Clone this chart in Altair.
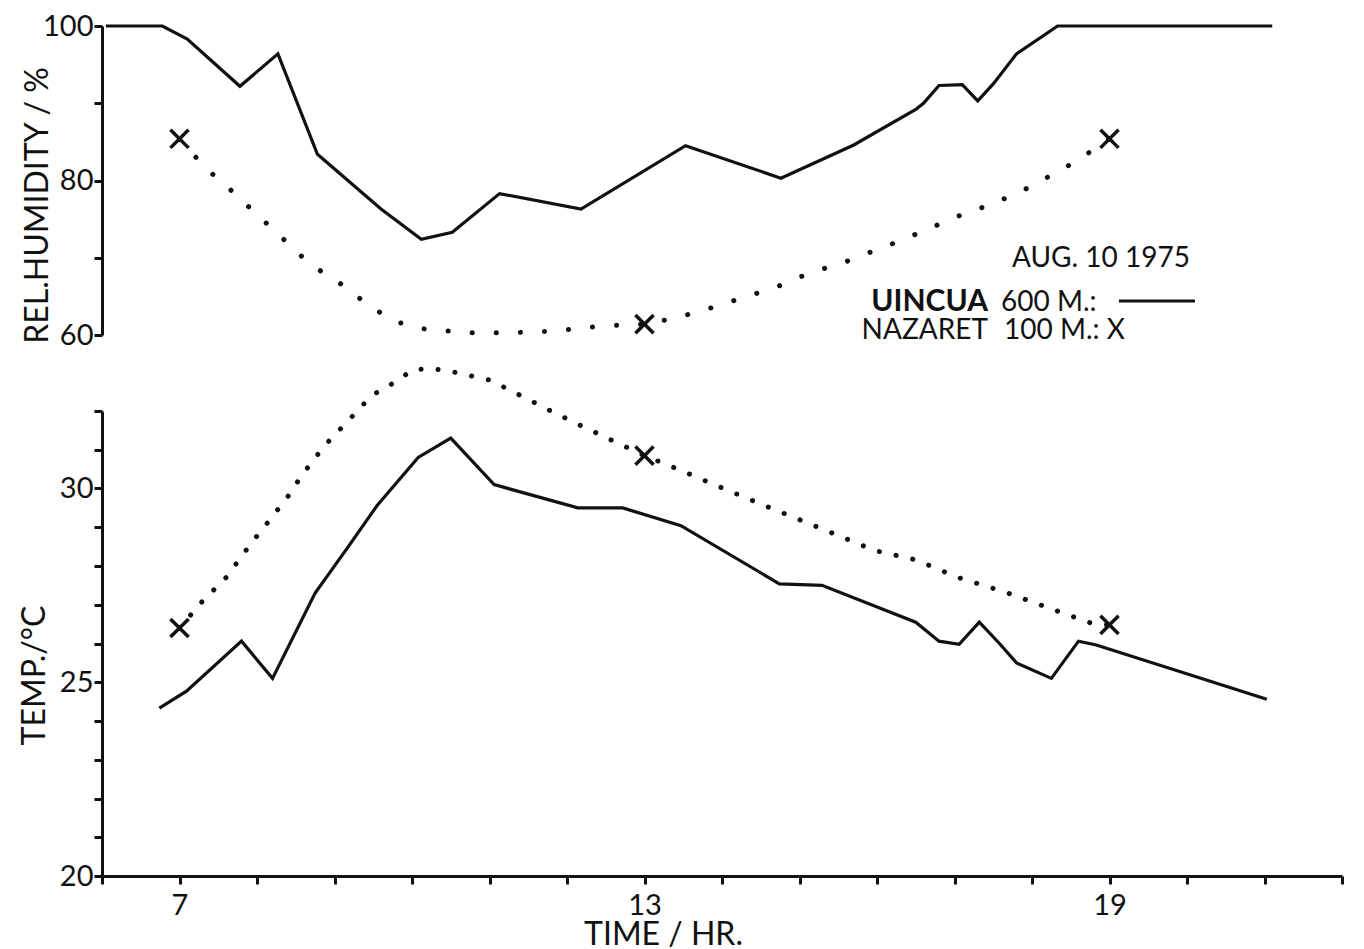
import altair as alt
import pandas as pd

# ---------------- data ----------------
hour_ticks = list(range(6, 23))
hour_labels = [7, 13, 19]
rh_ticks = [60, 70, 80, 90, 100]
rh_labels = [60, 80, 100]
temp_ticks = list(range(20, 33))
temp_labels = [20, 25, 30]

# UINCUA 600 m : relative humidity (solid line)
rh_u_time = [6.05, 6.78, 7.1, 7.78, 8.27, 8.78, 9.6, 10.12, 10.52, 11.13, 12.18,
             13.53, 14.76, 15.7, 16.5, 16.6, 16.8, 17.1, 17.3, 17.5, 17.8, 18.33, 21.1]
rh_u_val = [100, 100, 98.3, 92.2, 96.4, 83.4, 76.3, 72.4, 73.3, 78.3, 76.3,
            84.5, 80.3, 84.6, 89.2, 90.0, 92.3, 92.4, 90.3, 92.5, 96.4, 100, 100]

# NAZARET 100 m : relative humidity, smoothed dotted curve
rh_n_time = [7.0, 7.35, 7.68, 8.0, 8.3, 8.68, 9.07, 9.42, 9.76, 10.15, 10.7, 11.3,
             11.8, 12.5, 13.0, 13.35, 13.7, 14.2, 14.7, 15.1, 15.6, 16.3, 16.7,
             17.1, 17.5, 17.9, 18.4, 18.6, 19.0]
rh_n_val = [85.3, 81.5, 78.6, 75.6, 72.8, 69.2, 66.7, 64.0, 61.8, 60.8, 60.3, 60.3,
            60.5, 61.2, 61.4, 62.1, 63.0, 64.6, 66.2, 67.9, 69.5, 72.2, 73.9,
            75.6, 77.0, 78.8, 81.5, 82.7, 85.4]

# UINCUA 600 m : temperature (solid line)
t_u_time = [6.74, 7.09, 7.8, 8.2, 8.75, 9.16, 9.55, 10.08, 10.5, 11.06, 12.14, 12.72,
            13.47, 14.74, 15.29, 16.5, 16.8, 17.06, 17.32, 17.58, 17.8, 18.25, 18.6,
            18.83, 21.03]
t_u_val = [24.33, 24.77, 26.06, 25.1, 27.3, 28.45, 29.56, 30.8, 31.3, 30.1, 29.5, 29.5,
           29.04, 27.54, 27.5, 26.55, 26.06, 25.98, 26.55, 26.0, 25.5, 25.1, 26.06,
           25.96, 24.56]

# NAZARET 100 m : temperature, smoothed dotted curve
t_n_time = [7.0, 7.3, 7.6, 7.93, 8.17, 8.4, 8.6, 8.87, 9.2, 9.48, 9.83, 10.0, 10.24,
            10.55, 11.0, 11.4, 11.74, 12.14, 12.52, 13.0, 13.43, 13.9, 14.5, 15.24,
            15.97, 16.5, 17.05, 17.65, 18.24, 18.8, 19.0]
t_n_val = [26.4, 27.1, 27.7, 28.6, 29.2, 29.8, 30.4, 31.1, 31.8, 32.4, 32.8, 33.06, 33.1,
           33.0, 32.8, 32.4, 32.05, 31.66, 31.3, 30.85, 30.5, 30.1, 29.6, 29.0,
           28.4, 28.16, 27.7, 27.33, 26.9, 26.5, 26.48]

# NAZARET observations (crosses)
obs_time = [7, 13, 19]
obs_rh = [85.4, 61.4, 85.4]
obs_t = [26.4, 30.85, 26.48]

legend_texts = ["AUG. 10 1975", "UINCUA", "600 M.:", "NAZARET", "100 M.: X"]

# ---------------- styling ----------------
FONT = "Lato"
INK = "#111111"
CROSS = "M-1,-1L1,1M-1,1L1,-1"

df_rh_u = pd.DataFrame({"time": rh_u_time, "val": rh_u_val})
df_rh_n = pd.DataFrame({"time": rh_n_time, "val": rh_n_val})
df_rh_o = pd.DataFrame({"time": obs_time, "val": obs_rh})
df_t_u = pd.DataFrame({"time": t_u_time, "val": t_u_val})
df_t_n = pd.DataFrame({"time": t_n_time, "val": t_n_val})
df_t_o = pd.DataFrame({"time": obs_time, "val": obs_t})

xscale = alt.Scale(domain=[6, 22], nice=False, zero=False)


def lbl_expr(vals):
    return "indexof([" + ",".join(str(v) for v in vals) + "], datum.value) >= 0 ? datum.label : ''"


axis_common = dict(
    domainColor=INK, domainWidth=3, tickColor=INK, tickWidth=3, tickSize=8,
    labelFont=FONT, labelFontSize=29, labelColor=INK,
    titleFont=FONT, titleFontSize=32, titleFontWeight="normal", titleColor=INK,
    grid=False, labelFlush=False, labelOverlap=False,
)

# ---------- top panel: humidity ----------
x_top = alt.X("time:Q", scale=xscale, axis=None)
y_rh = alt.Y(
    "val:Q",
    scale=alt.Scale(domain=[60, 100], nice=False, zero=False),
    axis=alt.Axis(values=rh_ticks, labelExpr=lbl_expr(rh_labels), labelPadding=1,
                  title="REL.HUMIDITY / %", titleX=-65, titleY=179,
                  titleAngle=270, titleAlign="center", titleBaseline="middle",
                  **axis_common),
)

rh_solid = alt.Chart(df_rh_u).mark_line(color=INK, strokeWidth=3.2, clip=False).encode(
    x=x_top, y=y_rh)
rh_dots = alt.Chart(df_rh_n).mark_line(
    color=INK, strokeWidth=5, strokeDash=[0.1, 24], strokeCap="round", clip=False
).encode(x=x_top, y=y_rh)
rh_cross = alt.Chart(df_rh_o).mark_point(
    shape=CROSS, size=330, strokeWidth=3.5, filled=False, color=INK, opacity=1
).encode(x=x_top, y=y_rh)


def txt(s, x, y, align="left", weight="normal", size=28):
    return alt.Chart(pd.DataFrame({"s": [s]})).mark_text(
        font=FONT, fontSize=size, color=INK, align=align, baseline="alphabetic",
        fontWeight=weight,
    ).encode(text="s:N", x=alt.value(x), y=alt.value(y))


legend = (
    txt(legend_texts[0], 910, 241)
    + txt(legend_texts[1], 886, 285, align="right", weight="bold", size=30)
    + txt(legend_texts[2], 899, 285)
    + txt(legend_texts[3], 886, 313, align="right")
    + txt(legend_texts[4], 902, 313)
    + alt.Chart(pd.DataFrame({"s": ["line"]})).mark_rule(color=INK, strokeWidth=3).encode(
        x=alt.value(1017), x2=alt.value(1093), y=alt.value(275))
)

top = alt.layer(rh_dots, rh_solid, rh_cross, legend).properties(width=1240, height=309)

# ---------- bottom panel: temperature ----------
x_bot = alt.X(
    "time:Q", scale=xscale,
    axis=alt.Axis(values=hour_ticks, labelExpr=lbl_expr(hour_labels), labelPadding=7,
                  title="TIME / HR.", titleX=561, titleY=68, titleAngle=0,
                  titleAlign="center", titleBaseline="alphabetic", **axis_common),
)
y_t = alt.Y(
    "val:Q",
    scale=alt.Scale(domain=[20, 32], nice=False, zero=False),
    axis=alt.Axis(values=temp_ticks, labelExpr=lbl_expr(temp_labels), labelPadding=1,
                  title="TEMP./°C", titleX=-68, titleY=264,
                  titleAngle=270, titleAlign="center", titleBaseline="middle",
                  **axis_common),
)

t_solid = alt.Chart(df_t_u).mark_line(color=INK, strokeWidth=3.2, clip=False).encode(
    x=x_bot, y=y_t)
t_dots = alt.Chart(df_t_n).mark_line(
    color=INK, strokeWidth=5, strokeDash=[0.1, 17], strokeCap="round", clip=False
).encode(x=x_bot, y=y_t)
t_cross = alt.Chart(df_t_o).mark_point(
    shape=CROSS, size=330, strokeWidth=3.5, filled=False, color=INK, opacity=1
).encode(x=x_bot, y=y_t)

bottom = alt.layer(t_dots, t_solid, t_cross).properties(width=1240, height=465)

chart = alt.vconcat(top, bottom, spacing=76, bounds="flush").properties(
    background="white",
    padding={"left": 10, "top": 4, "right": 5, "bottom": 0},
).configure_view(stroke=None)

chart.save("out.html", embed_options={"renderer": "svg", "actions": False})
